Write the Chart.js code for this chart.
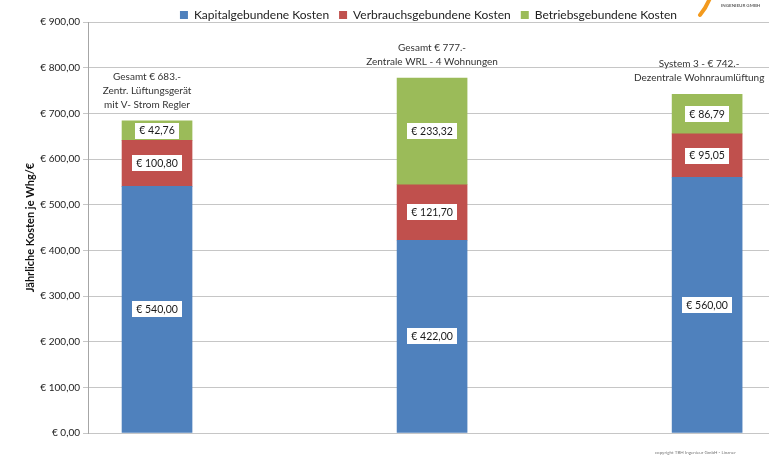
<!DOCTYPE html>
<html>
<head>
<meta charset="utf-8">
<script src="https://cdn.jsdelivr.net/npm/chart.js@4.4.1/dist/chart.umd.min.js"></script>
<style>
  html, body { margin: 0; padding: 0; background: #fff; }
  #wrap { position: relative; width: 769px; height: 460px; }
</style>
</head>
<body>
<div id="wrap"><canvas id="costChart" width="769" height="460"></canvas></div>
<script>
// --- data ---
const systems = ["System 1", "System 2", "System 3"];
const notes = [
  ["Gesamt € 683.-", "Zentr. Lüftungsgerät", "mit V- Strom Regler"],
  ["Gesamt € 777.-", "Zentrale WRL - 4 Wohnungen"],
  ["System 3 - € 742.-", "Dezentrale Wohnraumlüftung"],
];
const kapital    = [540.00, 422.00, 560.00];
const verbrauch  = [100.80, 121.70, 95.05];
const betrieb    = [42.76, 233.32, 86.79];
const seriesNames = ["Kapitalgebundene Kosten", "Verbrauchsgebundene Kosten", "Betriebsgebundene Kosten"];
const yTicks = [0, 100, 200, 300, 400, 500, 600, 700, 800, 900];

const FONT = "Lato, 'Noto Sans', sans-serif";
const euro = v => "€ " + v.toFixed(2).replace(".", ",");

const toPts = arr => arr.map((v, i) => ({ x: i, y: v }));

/** White value boxes in each segment, notes above bars, logo and footer. */
const labelPlugin = {
  id: "segLabels",
  afterDatasetsDraw(chart, args, opts) {
    const ctx = chart.ctx;
    ctx.save();
    ctx.font = "10.5px " + FONT;
    ctx.textAlign = "center";
    ctx.textBaseline = "middle";
    chart.data.datasets.forEach((ds, di) => {
      const meta = chart.getDatasetMeta(di);
      meta.data.forEach((bar, i) => {
        const v = ds.data[i].y;
        const txt = euro(v);
        const cy = (bar.y + bar.base) / 2;
        const w = ctx.measureText(txt).width + 8;
        ctx.fillStyle = "#fff";
        ctx.fillRect(Math.round(bar.x - w / 2), Math.round(cy - 8), Math.round(w), 16);
        ctx.fillStyle = "#1a1a1a";
        ctx.fillText(txt, bar.x, cy + 0.5);
      });
    });

    // notes above the stacks
    const last = chart.getDatasetMeta(chart.data.datasets.length - 1);
    ctx.font = "10px " + FONT;
    ctx.fillStyle = "#333";
    last.data.forEach((bar, i) => {
      const lines = notes[i];
      const x = bar.x + (opts.noteShift[i] || 0);
      lines.forEach((ln, k) => {
        const y = bar.y - 16 - (lines.length - 1 - k) * 14;
        ctx.fillText(ln, x, y);
      });
    });

    // logo fragment top right
    ctx.strokeStyle = "#f39a1e";
    ctx.lineWidth = 4;
    ctx.lineCap = "round";
    ctx.beginPath();
    ctx.moveTo(710, -2);
    ctx.quadraticCurveTo(706, 8, 700, 15);
    ctx.stroke();
    ctx.font = "bold 4.5px " + FONT;
    ctx.fillStyle = "#666";
    ctx.textAlign = "left";
    ctx.fillText("INGENIEUR GMBH", 721, 6);

    // footer
    ctx.font = "4.5px " + FONT;
    ctx.fillStyle = "#777";
    ctx.fillText("copyright TBH Ingenieur GmbH - Linzner", 655, 453);
    ctx.restore();
  },
};

const canvas = document.getElementById("costChart");
new Chart(canvas, {
  type: "bar",
  data: {
    datasets: [
      { label: seriesNames[0], data: toPts(kapital),   backgroundColor: "#4f81bd" },
      { label: seriesNames[1], data: toPts(verbrauch), backgroundColor: "#c0504d" },
      { label: seriesNames[2], data: toPts(betrieb),   backgroundColor: "#9bbb59" },
    ].map(d => Object.assign(d, { borderWidth: 0, barThickness: 70 })),
  },
  options: {
    responsive: false,
    animation: false,
    layout: { padding: { top: -1, right: 0, bottom: 27, left: 0 } },
    plugins: {
      tooltip: { enabled: false },
      legend: {
        position: "top",
        fullSize: false,
        maxHeight: 23,
        labels: {
          boxWidth: 8,
          boxHeight: 8,
          padding: 10,
          color: "#222",
          font: { family: FONT, size: 12 },
        },
      },
      segLabels: { noteShift: [-10, 0, -8] },
    },
    scales: {
      x: {
        type: "linear",
        stacked: true,
        display: false,
        offset: false,
        min: -0.251,
        max: 2.225,
      },
      y: {
        stacked: true,
        min: 0,
        max: 900,
        afterBuildTicks: s => { s.ticks = yTicks.map(v => ({ value: v })); },
        afterFit: s => { s.width = 88; },
        ticks: {
          padding: 3,
          color: "#222",
          font: { family: FONT, size: 10 },
          callback: v => euro(v),
        },
        grid: { color: "#c6c6c6", tickLength: 5 },
        border: { color: "#a6a6a6" },
        title: {
          display: true,
          text: "Jährliche Kosten je Whg/€",
          color: "#111",
          padding: { top: 24, bottom: 0 },
          font: { family: FONT, size: 11, weight: "bold" },
        },
      },
    },
  },
  plugins: [labelPlugin],
});
</script>
</body>
</html>
